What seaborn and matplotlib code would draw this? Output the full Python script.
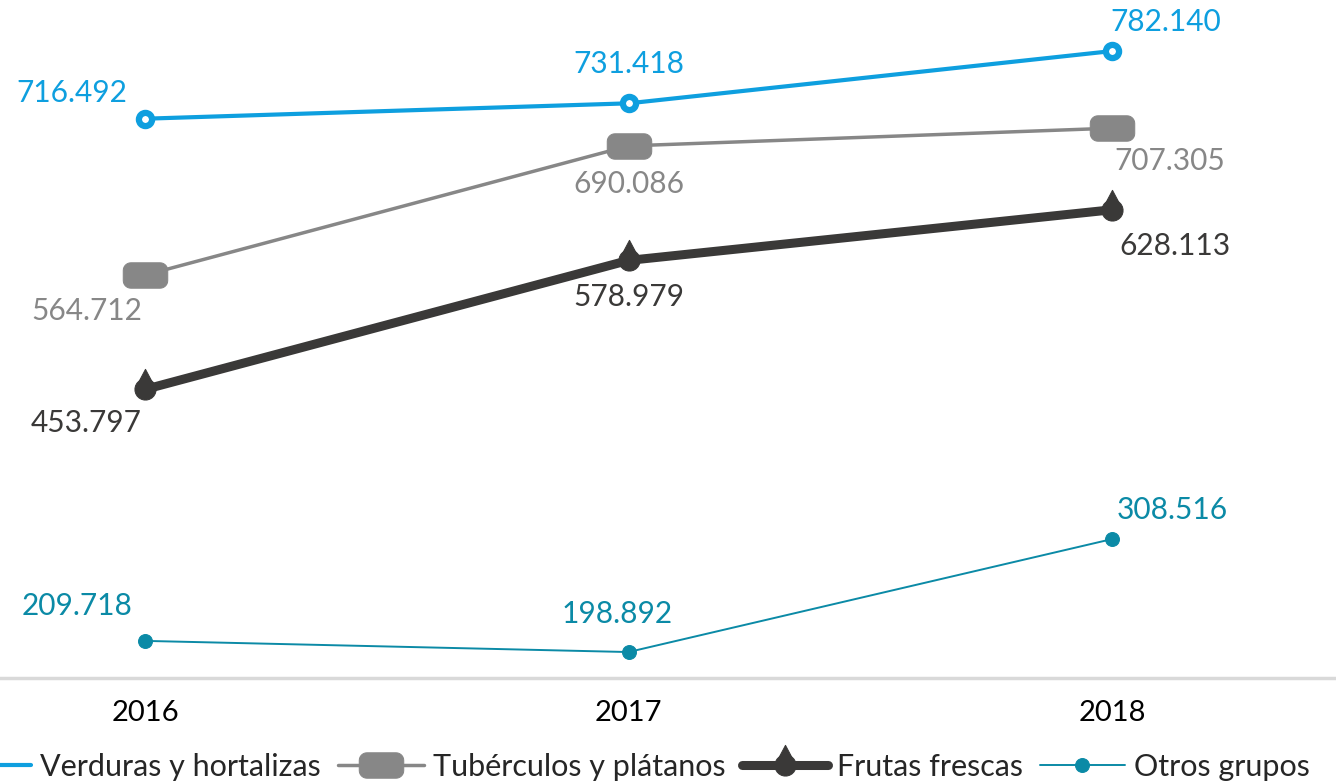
import numpy as np
import pandas as pd
import matplotlib
matplotlib.use("Agg")
import matplotlib.pyplot as plt
from matplotlib.path import Path
import seaborn as sns

# data
years = ["2016", "2017", "2018"]
verduras = [716.492, 731.418, 782.140]
tuberculos = [564.712, 690.086, 707.305]
frutas = [453.797, 578.979, 628.113]
otros = [209.718, 198.892, 308.516]
names = ["Verduras y hortalizas", "Tubérculos y plátanos", "Frutas frescas", "Otros grupos"]


def rounded_rect(w=1.75, h=1.0, r=0.3, n=8):
    pts = []
    corners = [(w / 2 - r, h / 2 - r, 0), (-w / 2 + r, h / 2 - r, 90),
               (-w / 2 + r, -h / 2 + r, 180), (w / 2 - r, -h / 2 + r, 270)]
    for cx, cy, a0 in corners:
        for a in np.linspace(np.radians(a0), np.radians(a0 + 90), n):
            pts.append((cx + r * np.cos(a), cy + r * np.sin(a)))
    pts.append(pts[0])
    return Path(pts, closed=True)


def droplet(n=30):
    # circle centred at the point, tip above
    a = np.linspace(np.radians(55), np.radians(485), n)
    pts = [(0.0, 1.9)] + [(np.cos(t), np.sin(t)) for t in a] + [(0.0, 1.9)]
    return Path(pts, closed=True)


df = pd.DataFrame({"year": years, "Verduras": verduras, "Tuberculos": tuberculos,
                   "Frutas": frutas, "Otros": otros})

sns.set_theme(style="white")
plt.rcParams["font.family"] = ["Lato", "DejaVu Sans"]

fig = plt.figure(figsize=(13.36, 7.81), dpi=100)
ax = fig.add_axes([0, 103 / 781, 1, 678 / 781])

styles = [
    ("Verduras", "#0E9FDF", 3.0, dict(marker="o", markersize=9.5, markerfacecolor="white",
                                       markeredgecolor="#0E9FDF", markeredgewidth=4.5)),
    ("Tuberculos", "#878787", 2.5, dict(marker=rounded_rect(), markersize=32,
                                         markerfacecolor="#878787", markeredgecolor="#878787")),
    ("Frutas", "#3A3938", 6.5, dict(marker=droplet(), markersize=29,
                                     markerfacecolor="#3A3938", markeredgecolor="#3A3938")),
    ("Otros", "#0B8AA6", 1.4, dict(marker="o", markersize=10,
                                    markerfacecolor="#0B8AA6", markeredgecolor="#0B8AA6")),
]

# label offsets in pixels (dx, dy) per series and year
offsets = {
    "Verduras": [(-73, 26), (0, 39), (54, 29)],
    "Tuberculos": [(-58, -36), (0, -38), (58, -33)],
    "Frutas": [(-59, -34), (0, -37), (63, -36)],
    "Otros": [(-68, 35), (-11, 38), (60, 29)],
}

for (col, color, lw, mk), name in zip(styles, names):
    sns.lineplot(data=df, x="year", y=col, ax=ax, color=color, linewidth=lw,
                 label=name, sort=False, **mk)
    for i, v in enumerate(df[col]):
        dx, dy = offsets[col][i]
        ax.annotate(f"{v:.3f}", (i, v), xytext=(dx, dy), textcoords="offset pixels",
                    ha="center", va="center", fontsize=21.5, color=color)

# category axis clipped like the original
ax.set_xlim(-145 / 483.5, (1336 - 145) / 483.5)
ax.set_ylim(173.7, 831.7)
ax.set_xlabel("")
ax.set_ylabel("")
ax.set_yticks([])
for s in ["top", "left", "right"]:
    ax.spines[s].set_visible(False)
ax.spines["bottom"].set_color("#D9D9D9")
ax.spines["bottom"].set_linewidth(2.5)
ax.tick_params(axis="x", length=0, pad=16, labelsize=21, colors="black")

ax.legend(loc="center", bbox_to_anchor=(628 / 1336, 14 / 781), bbox_transform=fig.transFigure,
          ncol=4, frameon=False, fontsize=22, handlelength=2.8, handletextpad=0.3,
          columnspacing=0.55, numpoints=1, borderaxespad=0, borderpad=0)

fig.savefig("out.png", dpi=100)
